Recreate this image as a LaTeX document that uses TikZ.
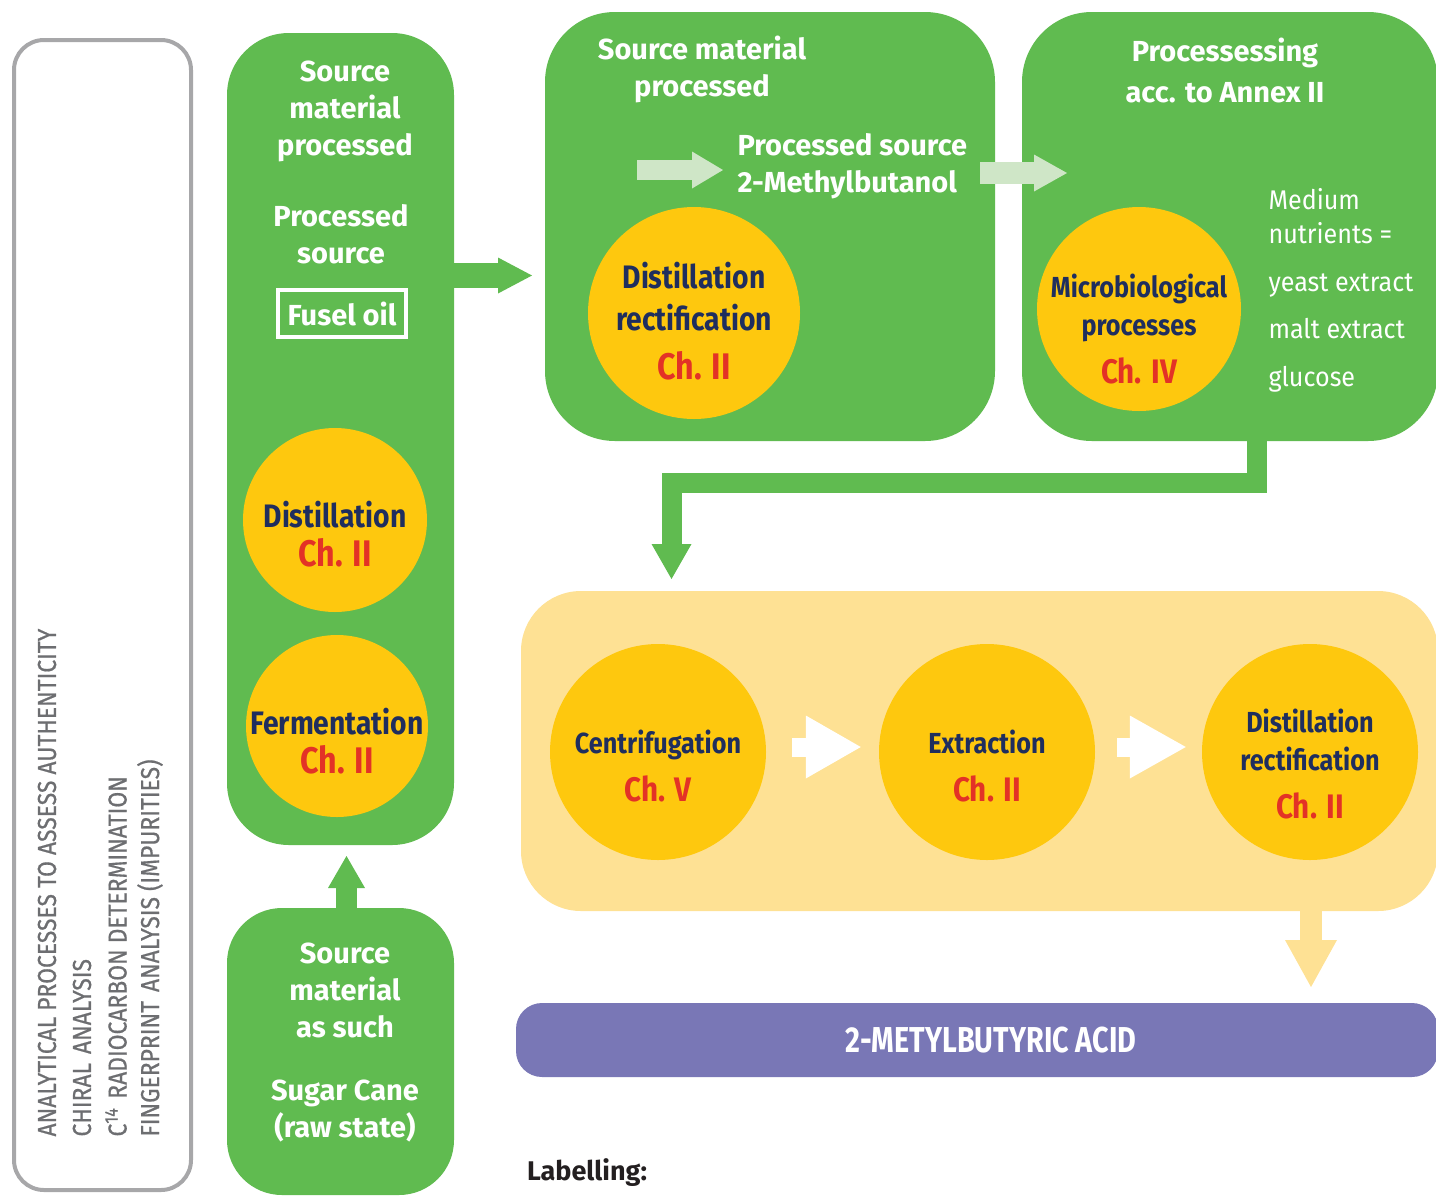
\documentclass[tikz,border=0pt]{standalone}
\usepackage{fontspec}
\setmainfont{Fira Sans}
\newfontfamily\railfont[FakeStretch=0.88,FakeBold=0.6]{Fira Sans}
\newfontfamily\barfont[FakeStretch=0.8]{Fira Sans}
\newfontfamily\discfont[FakeStretch=0.87]{Fira Sans}
\newfontfamily\notefont[FakeStretch=0.93]{Fira Sans}
\usetikzlibrary{arrows.meta}

\definecolor{leaf}{RGB}{96,187,80}
\definecolor{gold}{RGB}{254,200,14}
\definecolor{cream}{RGB}{254,225,148}
\definecolor{mint}{RGB}{207,230,199}
\definecolor{navy}{RGB}{31,46,94}
\definecolor{chred}{RGB}{227,50,38}
\definecolor{lilac}{RGB}{121,119,182}
\definecolor{railgray}{RGB}{167,167,169}
\definecolor{railtext}{RGB}{109,110,113}
\definecolor{inkblack}{RGB}{35,31,32}

\newcommand{\chap}[2][34]{{\color{chred}\fontsize{#1}{38}\selectfont #2}}

\begin{document}
\begin{tikzpicture}[x=1pt,y=-1pt,
    panel/.style={fill=#1, inner sep=0pt},
    head/.style={text=white, font=\fontsize{29}{37}\selectfont\bfseries, align=center},
    disc/.style={circle, fill=gold, minimum size=#1, inner sep=0pt},
    disctext/.style={text=navy, font=\discfont\fontsize{29}{38}\selectfont\bfseries, align=center},
    bigdisctext/.style={disctext, font=\discfont\fontsize{32.5}{39}\selectfont\bfseries},
    rail/.style={text=railtext, font=\railfont\fontsize{26}{30}\selectfont, rotate=90, anchor=west},
    fat/.style n args={3}{line width=#1, -{Triangle[length=#2, width=#3, line width=0pt]}}]
  \useasboundingbox (0,0) rectangle (1436,1195);

  % analysis frame on the left
  \node[draw=railgray, line width=4pt, rounded corners=30pt, minimum width=177pt, minimum height=1150pt] (rail) at (102.5,615) {};
  \node[rail] (r1) at (47,1140) {ANALYTICAL PROCESSES TO ASSESS AUTHENTICITY};
  \node[rail] (r2) at (82,1140) {CHIRAL\hskip 9pt ANALYSIS};
  \node[rail] (r3) at (116,1140) {C\textsuperscript{14}\hskip 9pt RADIOCARBON DETERMINATION};
  \node[rail] (r4) at (150,1140) {FINGERPRINT\hskip 9pt ANALYSIS (IMPURITIES)};

  % green panels
  \node[panel=leaf, rounded corners=62pt, minimum width=227pt, minimum height=812pt] (col) at (340.5,439) {};
  \node[panel=leaf, rounded corners=55pt, minimum width=227pt, minimum height=287pt] (sugar) at (340.5,1051.5) {};
  \node[panel=leaf, rounded corners=70pt, minimum width=450pt, minimum height=429pt] (box2) at (770,226.5) {};
  \node[panel=leaf, rounded corners=70pt, minimum width=416pt, minimum height=429pt] (box3) at (1230,226.5) {};
  \node[panel=cream, rounded corners=60pt, minimum width=917pt, minimum height=320pt] (tray) at (979.5,751) {};
  \node[panel=lilac, rounded corners=26pt, minimum width=922pt, minimum height=74pt] (acid) at (977,1040) {};

  % left column
  \node[head] (colhead) at (345,111) {Source\\material\\processed};
  \node[head] (colsrc) at (341,234) {Processed\\source};
  \node[head, draw=white, line width=4pt, minimum width=128pt, minimum height=47pt, inner sep=0pt] (fusel) at (342,313.5) {Fusel oil};
  \node[disc=184pt] (dist1) at (335,520) {};
  \node[bigdisctext] (dist1t) at ([yshift=-14pt]dist1.center) {Distillation\\\chap[37]{Ch. II}};
  \node[disc=182pt] (ferm) at (337,726) {};
  \node[bigdisctext] (fermt) at ([yshift=-15pt]ferm.center) {Fermentation\\\chap[37]{Ch. II}};

  % raw source
  \node[head] (sugarhead) at (345,990) {Source\\material\\as such};
  \node[head] (sugarname) at (345,1111) {Sugar Cane\\(raw state)};

  % second panel
  \node[head] (box2head) at (702,69) {Source material\\processed};
  \node[head, align=left, anchor=west] (procsrc) at (734,166) {Processed source\\2-Methylbutanol};
  \node[disc=212pt] (dist2) at (694,313) {};
  \node[bigdisctext] (dist2t) at ([yshift=-8pt]dist2.center) {Distillation\\[3pt]rectification\\[10pt]\chap[37]{Ch. II}};

  % third panel
  \node[head] (box3head) at (1225,70) {Processessing\\[4pt]acc. to Annex II};
  \node[disc=204pt] (micro) at (1139,309) {};
  \node[disctext] (microt) at ([yshift=-20pt]micro.center) {Microbiological\\processes\\[10pt]\chap{Ch. IV}};
  \node[text=white, font=\notefont\fontsize{27}{34}\selectfont, align=left, anchor=west] (medium) at (1265,290)
    {Medium\\nutrients =\\[14pt]yeast extract\\[13pt]malt extract\\[14pt]glucose};

  % downstream steps
  \node[disc=216pt] (centri) at (658,752) {};
  \node[disctext] (centrit) at ([yshift=-14pt]centri.center) {Centrifugation\\[10pt]\chap{Ch. V}};
  \node[disc=216pt] (extra) at (987,752) {};
  \node[disctext] (extrat) at ([yshift=-14pt]extra.center) {Extraction\\[10pt]\chap{Ch. II}};
  \node[disc=216pt] (dist3) at (1310,752) {};
  \node[disctext] (dist3t) at ([yshift=-12pt]dist3.center) {Distillation\\rectification\\[10pt]\chap{Ch. II}};

  \node[text=white, font=\barfont\fontsize{36}{40}\selectfont\bfseries] (acidt) at ([xshift=14pt]acid.center) {2-METYLBUTYRIC ACID};
  \node[text=inkblack, font=\fontsize{27}{32}\selectfont\bfseries] (label) at (587,1173) {Labelling:};

  % arrows
  \coordinate (a1) at (532,275.5);
  \draw[leaf, fat={25pt}{34pt}{36pt}] (col.east |- a1) -- (a1);
  \coordinate (a2) at (346.5,856);
  \draw[leaf, fat={21pt}{32pt}{37pt}] (sugar.north -| a2) -- (a2);
  \coordinate (a3tail) at (637,170);
  \coordinate (a3) at (723,170);
  \draw[mint, fat={20pt}{31pt}{37pt}] (a3tail) -- (a3);
  \coordinate (a4tail) at (980,173);
  \coordinate (a4) at (1067,173);
  \draw[mint, fat={22pt}{33pt}{37pt}] (a4tail) -- (a4);
  \coordinate (bend) at (1257,483);
  \coordinate (a5) at (671.5,579);
  \draw[leaf, fat={20pt}{35pt}{40pt}] (box3.south -| bend) -- (bend) -| (a5);
  \coordinate (a6) at (1311,987);
  \draw[cream, fat={22pt}{47pt}{52pt}] (tray.south -| a6) -- (a6);
  \draw[white, fat={19pt}{55pt}{63pt}] ([xshift=26pt,yshift=5pt]centri.east) -- ([xshift=-18pt,yshift=5pt]extra.west);
  \draw[white, fat={19pt}{56pt}{63pt}] ([xshift=22pt,yshift=5pt]extra.east) -- ([xshift=-16pt,yshift=5pt]dist3.west);
\end{tikzpicture}
\end{document}
